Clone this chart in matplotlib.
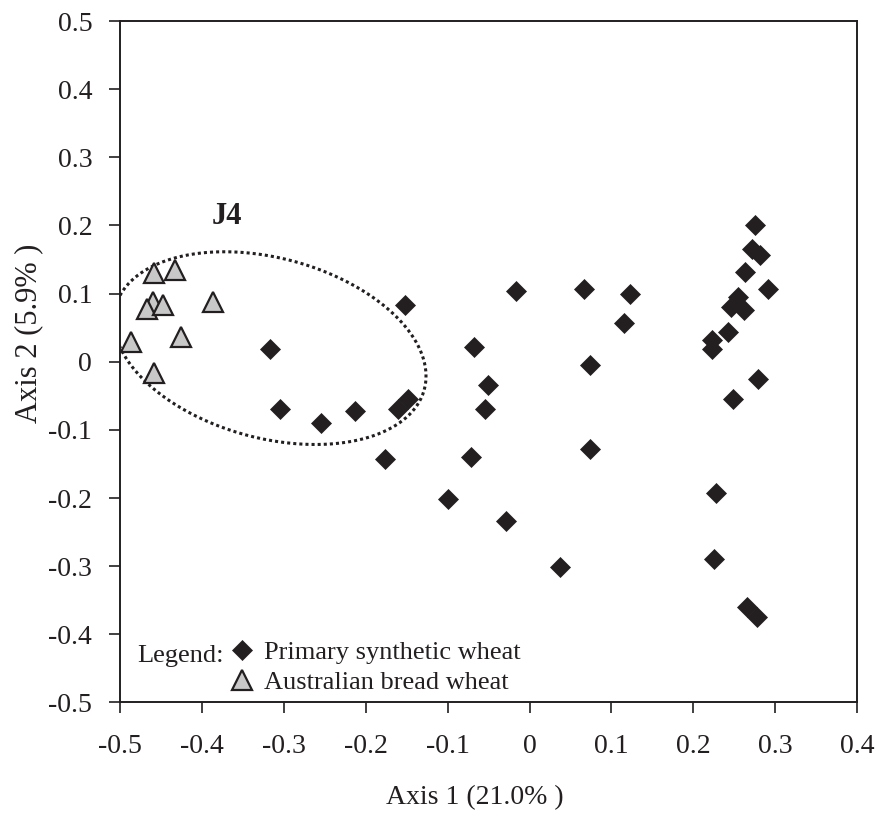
import numpy as np
import matplotlib
matplotlib.use('Agg')
import matplotlib.pyplot as plt

plt.rcParams['font.family'] = ['Liberation Serif', 'DejaVu Serif']

# Primary synthetic wheat (diamonds)
syn_x = [-0.152, -0.317, -0.305, -0.254, -0.213, -0.160, -0.148, -0.176,
         -0.016, 0.066, 0.123, 0.115, -0.068, 0.074, -0.051, -0.055,
         0.074, -0.071, -0.100, -0.029, 0.037,
         0.275, 0.272, 0.281, 0.263, 0.291, 0.254, 0.246, 0.262, 0.242,
         0.223, 0.223, 0.279, 0.248, 0.228, 0.225, 0.266, 0.278]
syn_y = [0.083, 0.018, -0.070, -0.090, -0.072, -0.069, -0.054, -0.142,
         0.104, 0.107, 0.099, 0.057, 0.022, -0.005, -0.034, -0.069,
         -0.128, -0.140, -0.201, -0.234, -0.301,
         0.201, 0.166, 0.156, 0.132, 0.107, 0.095, 0.080, 0.076, 0.043,
         0.032, 0.019, -0.026, -0.055, -0.193, -0.289, -0.360, -0.375]

# Australian bread wheat (triangles)
aus_x = [-0.459, -0.433, -0.460, -0.467, -0.447, -0.386, -0.486, -0.425, -0.459]
aus_y = [0.130, 0.135, 0.088, 0.078, 0.083, 0.088, 0.029, 0.036, -0.017]

xticks = [-0.5, -0.4, -0.3, -0.2, -0.1, 0, 0.1, 0.2, 0.3, 0.4]
yticks = [-0.5, -0.4, -0.3, -0.2, -0.1, 0, 0.1, 0.2, 0.3, 0.4, 0.5]
xtick_labels = ['-0.5', '-0.4', '-0.3', '-0.2', '-0.1', '0', '0.1', '0.2', '0.3', '0.4']
ytick_labels = ['-0.5', '-0.4', '-0.3', '-0.2', '-0.1', '0', '0.1', '0.2', '0.3', '0.4', '0.5']

dark = '#231f20'

fig = plt.figure(figsize=(8.81, 8.18), dpi=100)
ax = fig.add_axes([0.1362, 0.1412, 0.8368, 0.8331])

ln1, = ax.plot(syn_x, syn_y, linestyle='none', marker='D', markersize=10.5,
               color=dark, markeredgecolor=dark, markeredgewidth=0.5, zorder=3)
ln2, = ax.plot(aus_x, aus_y, linestyle='none', marker='^', markersize=15,
               markerfacecolor='#c8c8c8', markeredgecolor=dark,
               markeredgewidth=1.6, zorder=3)

# J4 cluster ellipse, drawn in screen-like units then mapped to data
px_x, px_y = 820.0, 681.0
t = np.linspace(0, 2 * np.pi, 300)
A, B, th = 160.0, 90.0, np.deg2rad(-15)
ex = A * np.cos(t) * np.cos(th) - B * np.sin(t) * np.sin(th)
ey = A * np.cos(t) * np.sin(th) + B * np.sin(t) * np.cos(th)
ax.plot(-0.317 + ex / px_x, 0.020 + ey / px_y, linestyle=(0, (1, 1.0)),
        color=dark, linewidth=2.2, zorder=2)
ax.text(-0.369, 0.213, 'J4', fontsize=22, fontweight='bold',
        ha='center', va='center', color=dark)

ax.set_xlim(-0.5, 0.4)
ax.set_ylim(-0.5, 0.5)
ax.set_xticks(xticks)
ax.set_yticks(yticks)
ax.set_xticklabels(xtick_labels)
ax.set_yticklabels(ytick_labels)
ax.tick_params(direction='out', length=8, width=1.2, labelsize=20,
               colors=dark)
ax.tick_params(axis='x', pad=15)
ax.tick_params(axis='y', pad=12)
for s in ax.spines.values():
    s.set_linewidth(1.4)
    s.set_color(dark)

ax.set_xlabel('Axis 1 (21.0% )', fontsize=20, color=dark)
ax.set_ylabel('Axis 2 (5.9% )', fontsize=22, color=dark)
ax.xaxis.set_label_coords(0.4817, -0.121)
ax.yaxis.set_label_coords(-0.104, 0.542)

ax.text(0.023, 0.06, 'Legend:', transform=ax.transAxes, fontsize=19,
        color=dark, va='baseline', ha='left')
ax.legend([ln1, ln2], ['Primary synthetic wheat', 'Australian bread wheat'],
          loc='center left', bbox_to_anchor=(0.1476, 0.0514), frameon=False,
          fontsize=19, handletextpad=0.33, handlelength=1.0, labelspacing=0.25,
          borderpad=0, borderaxespad=0, markerscale=1.0, labelcolor=dark)

fig.savefig('out.png', dpi=100)
